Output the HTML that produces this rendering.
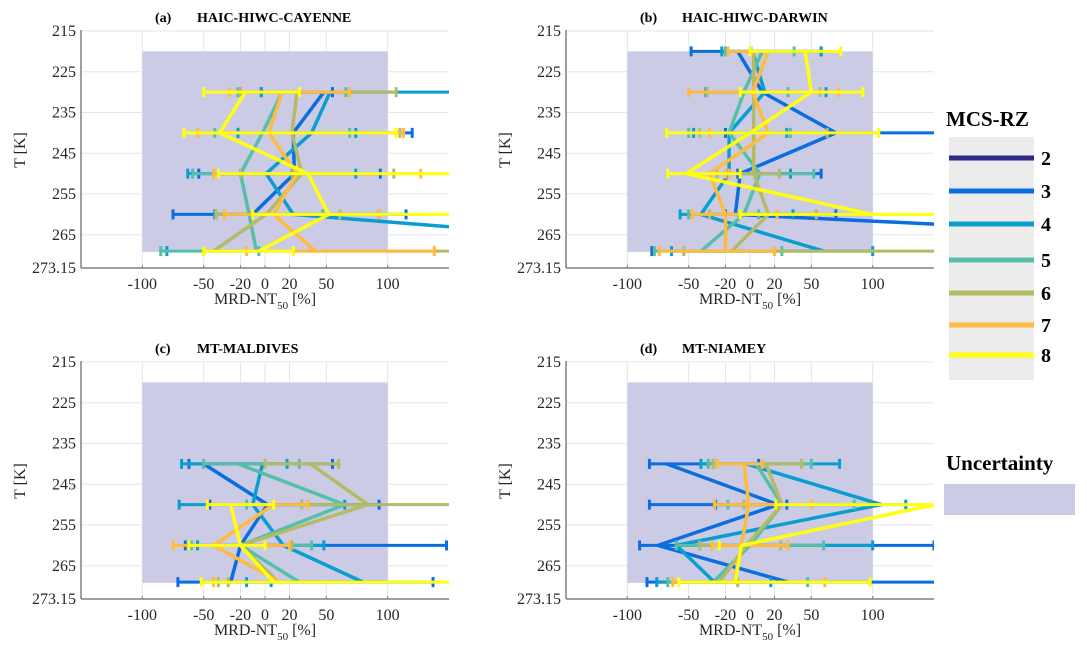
<!DOCTYPE html>
<html><head><meta charset="utf-8"><style>
html,body{margin:0;padding:0;background:#fff;}
svg{display:block;font-family:"Liberation Serif",serif;}
</style></head><body>
<svg id="chart" width="1087" height="660" viewBox="0 0 1087 660">
<g id="panels"></g>
<g id="legend">
<text x="946" y="126" font-size="21" font-weight="bold">MCS-RZ</text>
<rect x="949" y="137" width="85" height="243" fill="#ececec"/>
<text x="946" y="470" font-size="21" font-weight="bold">Uncertainty</text>
<rect x="944" y="484" width="131" height="31" fill="#cbcbe6"/>
</g>
</svg>
<script>
const levels=[220,230,240,250,260,269];
const seriesNames=["2","3","4","5","6","7","8"];
const colors=["#2e2a85","#0a6ee0","#0a9ed0","#55bfa8","#b5ba65","#ffbb40","#ffff10"];
const xTicks=[-100,-50,-20,0,20,50,100];
const yTicks=[215,225,235,245,255,265,273.15];
const tags=["(a)","(b)","(c)","(d)"];
const titles=["HAIC-HIWC-CAYENNE","HAIC-HIWC-DARWIN","MT-MALDIVES","MT-NIAMEY"];
const N=null;
// panel a
const aMed=[[N,N,N,N,N,N],[N,48,23,24,-10,N],[N,53,38,1,23,400],[N,14,-2,-20,-13,-7],[N,26,22,30,1,-42],[N,14,3,26,7,41],[N,-16,-37,35,52,-5]];
const aLo=[[N,N,N,N,N,N],[N,-3,-22,-54,-75,N],[N,-3,-22,-63,-41,-80],[N,-22,-41,-59,-40,-85],[N,-20,-55,-20,-40,-50],[N,-29,-55,-42,-33,-15],[N,-50,-66,-38,-10,-50]];
const aHi=[[N,N,N,N,N,N],[N,55,120,94,115,N],[N,200,74,74,93,N],[N,66,69,22,47,-5],[N,107,110,105,61,200],[N,69,113,127,93,138],[N,28,107,200,200,23]];
// panel b
const bMed=[[N,N,N,N,N,N],[-10,10,70,-8,-12,600],[2,12,-17,-17,-40,60],[10,-5,-17,8,-5,-40],[3,3,3,3,15,-15],[15,2,15,-33,-20,-20],[45,50,0,-52,100,N]];
const bLo=[[N,N,N,N,N,N],[-48,N,-20,-10,-20,-80],[-23,-36,-46,N,-57,-64],[-20,-35,-50,-27,-50,-78],[N,-35,-41,-27,-33,-54],[-18,-50,-33,-20,-47,-74],[0,-8,-68,-67,-8,N]];
const bHi=[[N,N,N,N,N,N],[58,N,200,58,70,N],[58,62,30,33,35,100],[36,31,33,52,7,26],[N,57,63,24,54,200],[1,72,N,-17,22,20],[74,92,105,-8,200,N]];
// panel c
const cMed=[[N,N,N,N,N,N],[N,N,-50,2,-20,-28],[N,N,-2,-10,15,80],[N,N,-22,65,-20,28],[N,N,37,84,-20,11],[N,N,N,7,-42,12],[N,N,N,-28,-20,7]];
const cLo=[[N,N,N,N,N,N],[N,N,-62,-45,-65,-71],[N,N,-68,-70,-55,-15],[N,N,-50,-15,-60,N],[N,N,0,30,-38,-38],[N,N,N,-47,-75,-42],[N,N,N,-47,-62,-52]];
const cHi=[[N,N,N,N,N,N],[N,N,55,93,148,137],[N,N,18,65,48,5],[N,N,28,N,38,N],[N,N,60,200,22,-30],[N,N,N,35,20,N],[N,N,N,7,0,200]];
// panel d
const dMed=[[N,N,N,N,N,N],[N,N,-68,23,-75,31],[N,N,-3,107,-60,-29],[N,N,5,26,0,-30],[N,N,13,26,-3,-25],[N,N,-5,-1,-7,-13],[N,N,N,151,-7,-12]];
const dLo=[[N,N,N,N,N,N],[N,N,-82,-82,-90,-84],[N,N,-40,-28,-60,-76],[N,N,-34,-18,-60,-67],[N,N,-30,-5,-41,-10],[N,N,-27,-29,-31,-63],[N,N,N,21,-25,-58]];
const dHi=[[N,N,N,N,N,N],[N,N,7,30,150,200],[N,N,73,127,100,17],[N,N,50,85,60,47],[N,N,42,N,25,N],[N,N,10,50,31,61],[N,N,N,151,N,98]];

const panelData=[[aMed,aLo,aHi],[bMed,bLo,bHi],[cMed,cLo,cHi],[dMed,dLo,dHi]];
const offsets=[[0,0],[485,0],[0,331],[485,331]];
const NS="http://www.w3.org/2000/svg";
function mk(tag,attrs,parent){const e=document.createElementNS(NS,tag);for(const k in attrs)e.setAttribute(k,attrs[k]);parent.appendChild(e);return e;}
const xs=v=>81+(v+150)*368/300;
const ys=t=>31+(t-215)*(237/58.15);
const root=document.getElementById('panels');
panelData.forEach((pd,pi)=>{
  const [ox,oy]=offsets[pi];
  const g=mk('g',{transform:`translate(${ox},${oy})`},root);
  
  
  const cp=mk('clipPath',{id:'cp'+pi},g);
  mk('rect',{x:81,y:0,width:368,height:300},cp);
  xTicks.forEach(v=>{const l=mk('line',{x1:xs(v),x2:xs(v),y1:31,y2:268,stroke:'#e6e6e6','stroke-width':1},g);
    });
  yTicks.slice(0,6).forEach(t=>{const l=mk('line',{x1:81,x2:449,y1:ys(t),y2:ys(t),stroke:'#e6e6e6','stroke-width':1},g);
    });
  const sh=mk('rect',{x:xs(-100),y:ys(220),width:xs(100)-xs(-100),height:ys(269.2)-ys(220),fill:'#cbcbe6'},g);
  
  const ax=mk('line',{x1:81,x2:449,y1:268,y2:268,stroke:'#808080','stroke-width':1.5},g);
  
  const ay=mk('line',{x1:81,x2:81,y1:30,y2:268,stroke:'#808080','stroke-width':1.5},g);
  
  xTicks.forEach(v=>{const t=mk('text',{x:xs(v),y:289,'font-size':16,'text-anchor':'middle',fill:'#262626'},g);t.textContent=String(v);
    
    mk('line',{x1:xs(v),x2:xs(v),y1:265,y2:268,stroke:'#808080'},g);});
  yTicks.forEach(v=>{const t=mk('text',{x:76,y:ys(v)+5,'font-size':16,'text-anchor':'end',fill:'#262626'},g);t.textContent=String(v);
    });
  const xl=mk('text',{x:265,y:304,'font-size':16,'text-anchor':'middle',fill:'#262626'},g);
  xl.innerHTML='MRD-NT<tspan font-size="11" dy="5">50</tspan><tspan dy="-5"> [%]</tspan>';
  
  const yl=mk('text',{x:0,y:0,'font-size':16,'text-anchor':'middle',fill:'#262626',transform:'translate(25,150) rotate(-90)'},g);
  yl.textContent='T [K]';
  
  const tg=mk('text',{x:155,y:22,'font-size':14,'font-weight':'bold'},g);
  tg.textContent=tags[pi];
  
  const tt=mk('text',{x:197,y:22,'font-size':14,'font-weight':'bold'},g);
  tt.textContent=titles[pi];
  
  const dg=mk('g',{'clip-path':`url(#cp${pi})`},g);
  const [med,lo,hi]=pd;
  med.forEach((arr,si)=>{
    const sg=mk('g',{},dg);
    
    
    const c=colors[si];
    levels.forEach((lv,li)=>{
      const a=lo[si][li],b=hi[si][li];const y=ys(lv);
      if(a!==null&&b!==null){
        const e=mk('line',{x1:xs(a),x2:xs(b),y1:y,y2:y,stroke:c,'stroke-width':3},sg);
        
      }
      [a,b].forEach(v=>{if(v!==null){const cap=mk('line',{x1:xs(v),x2:xs(v),y1:y-5,y2:y+5,stroke:c,'stroke-width':3},sg);
        }});
    });
    const pts=[];levels.forEach((lv,li)=>{if(arr[li]!==null)pts.push(xs(arr[li]).toFixed(1)+','+ys(lv).toFixed(1));});
    if(pts.length>1){const pl=mk('polyline',{points:pts.join(' '),fill:'none',stroke:c,'stroke-width':3.5,'stroke-linejoin':'round'},sg);
      }
  });
});
const lg=document.getElementById('legend');
const legY=[158,191,224,260,293,325,355];
seriesNames.forEach((s,i)=>{
  const l=mk('line',{x1:949,x2:1034,y1:legY[i],y2:legY[i],stroke:colors[i],'stroke-width':5},lg);
  
  const t=mk('text',{x:1041,y:legY[i]+7,'font-size':20,'font-weight':'bold'},lg);t.textContent=s;
  
});
</script>
</body></html>
